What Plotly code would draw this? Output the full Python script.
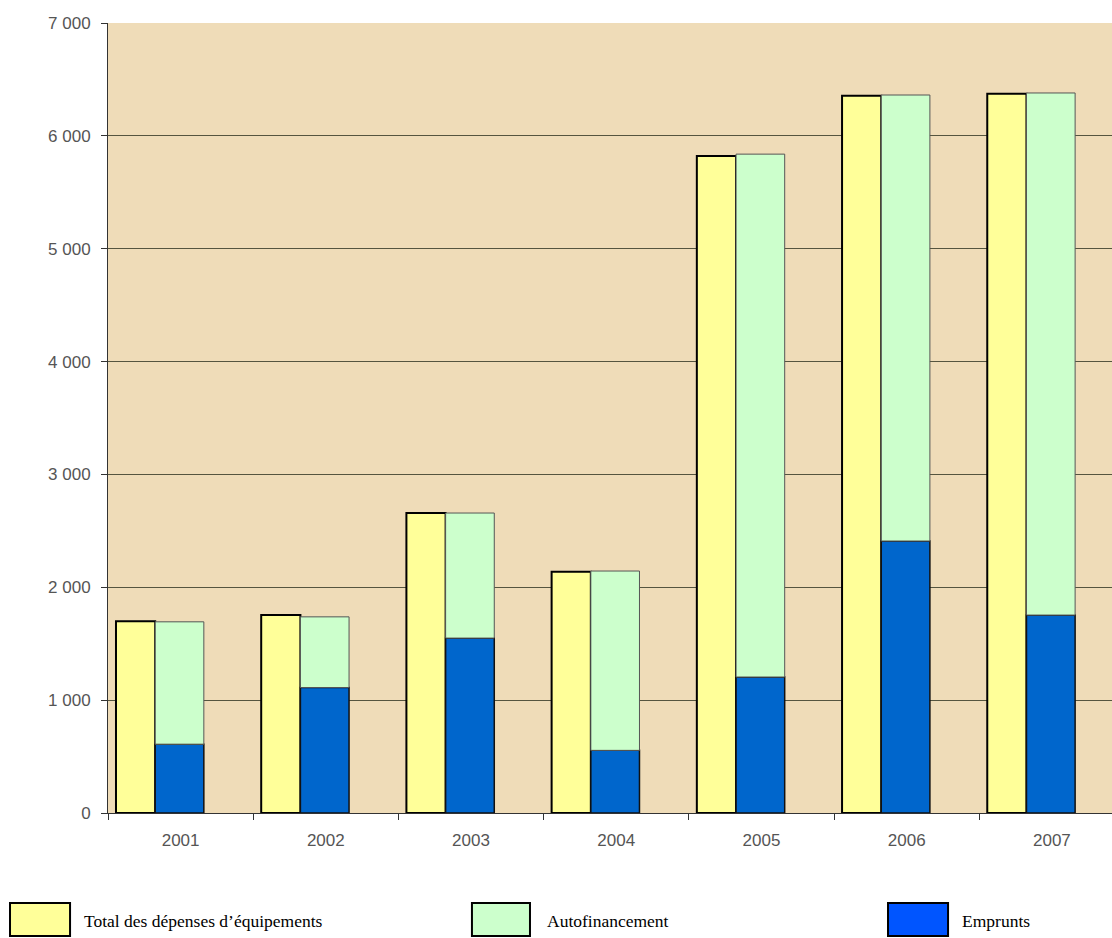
import plotly.graph_objects as go

years = ["2001", "2002", "2003", "2004", "2005", "2006", "2007"]
total_depenses = [1700, 1754, 2658, 2138, 5822, 6355, 6372]
emprunts = [610, 1112, 1550, 555, 1205, 2410, 1754]
autofin_total = [1694, 1738, 2658, 2144, 5838, 6362, 6380]
autofinancement = [a - e for a, e in zip(autofin_total, emprunts)]

names = ["Total des dépenses d\u2019équipements", "Autofinancement", "Emprunts"]
colors = ["#FFFF99", "#CCFFCC", "#0066CC"]

fig = go.Figure()
fig.add_trace(go.Bar(x=years, y=total_depenses, name=names[0],
                     marker=dict(color=colors[0], line=dict(color="black", width=2)),
                     offset=-0.445, width=0.27))
fig.add_trace(go.Bar(x=years, y=emprunts, name=names[2],
                     marker=dict(color=colors[2], line=dict(color="#111", width=1.5)),
                     offset=-0.175, width=0.335))
fig.add_trace(go.Bar(x=years, y=autofinancement, base=emprunts, name=names[1],
                     marker=dict(color=colors[1], line=dict(color="#555", width=1)),
                     offset=-0.175, width=0.335))

# legend drawn manually with large boxes (paper coords relative to plot area)
legend_box_x0 = [-0.0976, 0.3625, 0.7769]
legend_box_x1 = [-0.0378, 0.4203, 0.8367]
legend_text_x = [-0.0259, 0.4353, 0.8486]
legend_colors = [colors[0], colors[1], "#0055FF"]
for x0, x1, tx, c, n in zip(legend_box_x0, legend_box_x1, legend_text_x, legend_colors, names):
    fig.add_shape(type="rect", xref="paper", yref="paper",
                  x0=x0, x1=x1, y0=-0.1557, y1=-0.1139,
                  fillcolor=c, line=dict(color="black", width=2))
    fig.add_annotation(xref="paper", yref="paper", x=tx, y=-0.1365,
                       text=n, showarrow=False, xanchor="left", yanchor="middle",
                       font=dict(family="Liberation Serif", size=17.5, color="black"))

fig.update_layout(
    width=1112, height=938,
    margin=dict(l=108, r=0, t=23, b=125),
    paper_bgcolor="white",
    plot_bgcolor="#EFDCB8",
    barmode="overlay",
    showlegend=False,
    separators=", ",
    font=dict(family="Liberation Sans", size=17, color="#555"),
)
fig.update_xaxes(type="category", range=[-0.5, 6.414], tickson="boundaries",
                 ticks="outside", ticklen=6, tickcolor="#333",
                 showline=True, linecolor="#333", linewidth=1,
                 showgrid=False, ticklabelstandoff=12,
                 tickfont=dict(size=17, color="#555"))
fig.update_yaxes(range=[0, 7000], dtick=1000, tickformat=",d",
                 ticks="outside", ticklen=6, tickcolor="#333",
                 showline=True, linecolor="#333", linewidth=1,
                 showgrid=True, gridcolor="#55553f", gridwidth=1,
                 zeroline=False, ticklabelstandoff=7,
                 tickfont=dict(size=17, color="#555"))

fig.write_html("out.html")
